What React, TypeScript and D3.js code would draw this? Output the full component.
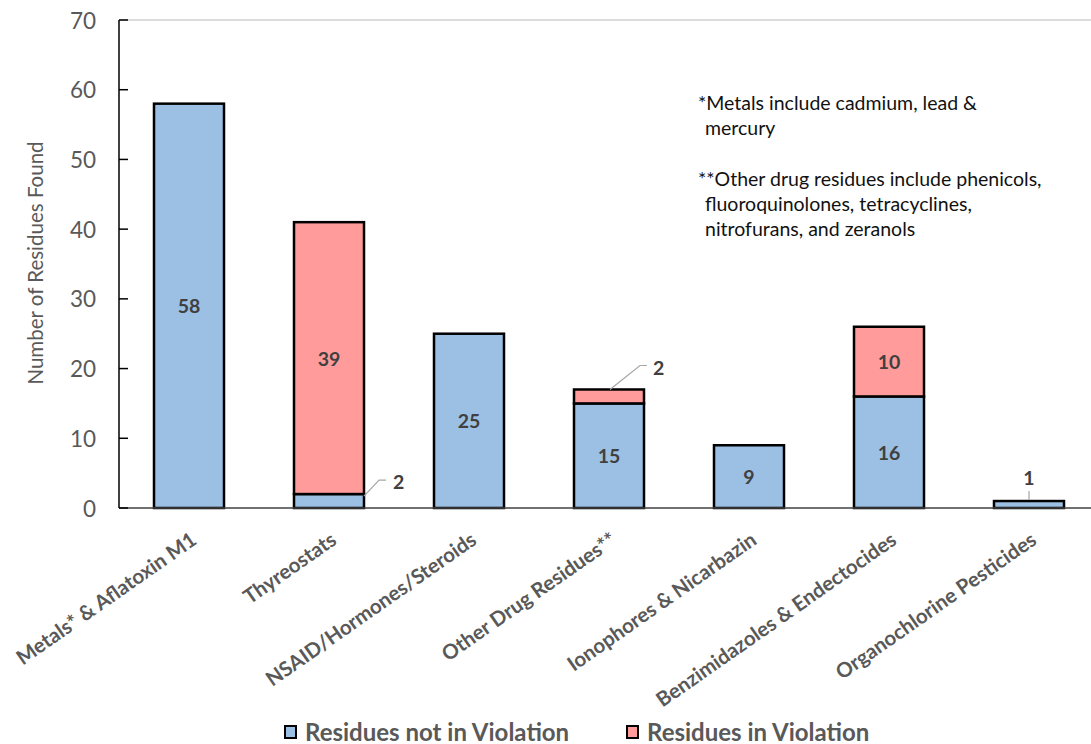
import React from "react";
import * as d3 from "d3";

const categories = [
  "Metals* & Aflatoxin M1",
  "Thyreostats",
  "NSAID/Hormones/Steroids",
  "Other Drug Residues**",
  "Ionophores & Nicarbazin",
  "Benzimidazoles & Endectocides",
  "Organochlorine Pesticides",
];
const notInViolation = [58, 2, 25, 15, 9, 16, 1];
const inViolation = [0, 39, 0, 2, 0, 10, 0];
const yTicks = [0, 10, 20, 30, 40, 50, 60, 70];
const seriesNames = ["Residues not in Violation", "Residues in Violation"];
const notes = [
  { text: "*Metals include cadmium, lead &", indent: false },
  { text: "mercury", indent: true },
  { text: "", indent: false },
  { text: "**Other drug residues include phenicols,", indent: false },
  { text: "fluoroquinolones, tetracyclines,", indent: true },
  { text: "nitrofurans, and zeranols", indent: true },
];

const W = 1091;
const H = 744;
const left = 119;
const top = 20;
const bottom = 508;
const FONT = "Lato, 'Open Sans', sans-serif";
const BLUE = "#9bc0e4";
const PINK = "#ff9b9b";
const GRAY = "#595959";
const LABEL = "#404040";
const LEADER = "#a6a6a6";

export default function App() {
  const x = d3
    .scaleBand<string>()
    .domain(categories)
    .range([left, left + 140 * categories.length])
    .paddingInner(0.5)
    .paddingOuter(0.25);
  const y = d3.scaleLinear().domain([0, 70]).range([bottom, top]);
  const bw = x.bandwidth();

  const valueText = (key: string, px: number, py: number, v: number, anchor: "middle" | "start") => (
    <text key={key} x={px} y={py} textAnchor={anchor} dominantBaseline="central" fontWeight={700} fontSize={19.5} fill={LABEL}>
      {v}
    </text>
  );

  return (
    <svg width={W} height={H} style={{ position: "absolute", left: 0, top: 0, fontFamily: FONT }}>
      <rect width={W} height={H} fill="#fff" />
      {/* top grid line */}
      <line x1={left} x2={W} y1={y(70)} y2={y(70)} stroke="#d0d0d0" strokeWidth={1.5} />
      {/* stacked bars */}
      {categories.map((c, i) => {
        const x0 = x(c)!;
        const a = notInViolation[i];
        const b = inViolation[i];
        return (
          <g key={c}>
            <rect x={x0} y={y(a)} width={bw} height={y(0) - y(a)} fill={BLUE} stroke="#000" strokeWidth={2.5} />
            {b > 0 && (
              <rect x={x0} y={y(a + b)} width={bw} height={y(a) - y(a + b)} fill={PINK} stroke="#000" strokeWidth={2.5} />
            )}
          </g>
        );
      })}
      {/* x axis */}
      <line x1={left} x2={W} y1={bottom} y2={bottom} stroke="#404040" strokeWidth={1.5} />
      {/* y axis */}
      <line x1={left} x2={left} y1={top} y2={bottom} stroke="#000" strokeWidth={1.5} />
      {yTicks.map((t) => (
        <g key={t}>
          <line x1={left} x2={left + 9} y1={y(t)} y2={y(t)} stroke="#000" strokeWidth={1.5} />
          <text x={96} y={y(t)} textAnchor="end" dominantBaseline="central" fontSize={22.5} fill={GRAY}>
            {t}
          </text>
        </g>
      ))}
      <text
        transform={`translate(35,263) rotate(-90)`}
        textAnchor="middle"
        dominantBaseline="central"
        fontSize={20.5}
        fill={GRAY}
      >
        Number of Residues Found
      </text>
      {/* value labels */}
      {categories.map((c, i) => {
        const x0 = x(c)!;
        const cx = x0 + bw / 2;
        const a = notInViolation[i];
        const b = inViolation[i];
        const out: React.ReactNode[] = [];
        if (a >= 5) {
          out.push(valueText("a", cx, y(a / 2), a, "middle"));
        } else if (b > 0) {
          // thin segment under a stack: leader from its top-right corner
          const xr = x0 + bw;
          const yy = y(a);
          out.push(
            <g key="a">
              <polyline points={`${xr},${yy + 2} ${xr + 15},${yy - 14} ${xr + 22},${yy - 14}`} fill="none" stroke={LEADER} strokeWidth={1.2} />
              {valueText("t", xr + 29, yy - 13, a, "start")}
            </g>
          );
        } else {
          const yTop = y(a);
          out.push(
            <g key="a">
              <line x1={cx} y1={yTop - 1} x2={cx} y2={yTop - 10} stroke={LEADER} strokeWidth={1.2} />
              {valueText("t", cx, yTop - 24, a, "middle")}
            </g>
          );
        }
        if (b >= 5) {
          out.push(valueText("b", cx, y(a + b / 2), b, "middle"));
        } else if (b > 0) {
          const yy = y(a + b);
          out.push(
            <g key="b">
              <polyline points={`${cx + 1},${yy} ${cx + 31},${yy - 24} ${cx + 38},${yy - 24}`} fill="none" stroke={LEADER} strokeWidth={1.2} />
              {valueText("t", cx + 44, yy - 22, b, "start")}
            </g>
          );
        }
        return <g key={c}>{out}</g>;
      })}
      {/* category labels */}
      {categories.map((c) => {
        const cx = x(c)! + bw / 2;
        return (
          <text
            key={c}
            transform={`translate(${cx + 9},${bottom + 35}) rotate(-35)`}
            textAnchor="end"
            fontWeight={700}
            fontSize={20.5}
            fill={GRAY}
          >
            {c}
          </text>
        );
      })}
      {/* footnotes */}
      {notes.map((n, i) => (
        <text key={i} x={n.indent ? 705 : 698} y={110 + i * 25.2} fontSize={19.5} fill="#111">
          {n.text}
        </text>
      ))}
      {/* legend */}
      {seriesNames.map((s, i) => {
        const lx = i === 0 ? 285 : 627;
        return (
          <g key={s}>
            <rect x={lx} y={726} width={11} height={12} fill={i === 0 ? BLUE : PINK} stroke="#000" strokeWidth={2} />
            <text x={lx + 20} y={731} dominantBaseline="central" fontWeight={700} fontSize={24} fill={GRAY}>
              {s}
            </text>
          </g>
        );
      })}
    </svg>
  );
}
